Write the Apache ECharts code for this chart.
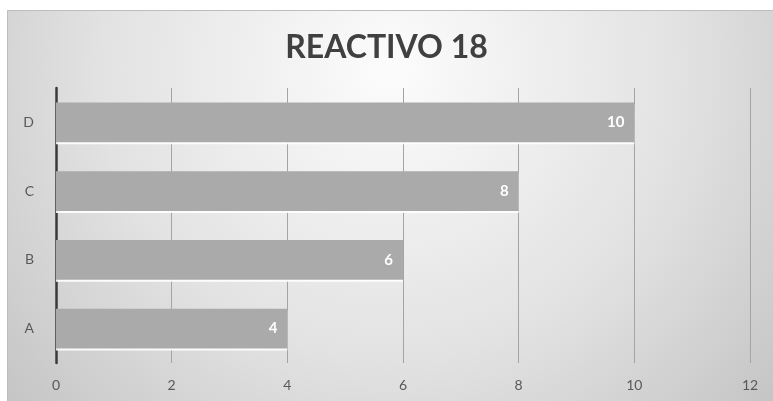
<!DOCTYPE html>
<html><head><meta charset="utf-8">
<script src="https://cdn.jsdelivr.net/npm/echarts@6/dist/echarts.min.js"></script>
<style>html,body{margin:0;padding:0;background:#fff}#c{width:773px;height:401px}</style>
</head><body><div id="c"></div>
<script>
const titleText = 'REACTIVO 18';
const categories = ['A', 'B', 'C', 'D'];
const values = [4, 6, 8, 10];
const xTicks = [0, 2, 4, 6, 8, 10, 12];

const chart = echarts.init(document.getElementById('c'));
chart.setOption({
  animation: false,
  graphic: [{
    type: 'rect', left: 7, top: 10, z: -10,
    shape: { width: 766, height: 391 },
    style: {
      fill: { type: 'radial', x: 0.5, y: 0.15, r: 1.35,
        colorStops: [{ offset: 0, color: '#fcfcfc' }, { offset: 0.55, color: '#e2e2e2' }, { offset: 1, color: '#c2c2c2' }] },
      stroke: '#bdbdbd', lineWidth: 1
    }
  }],
  title: {
    text: titleText, left: 'center', top: 27, itemGap: 0,
    textStyle: { fontFamily: 'Lato', fontWeight: 'bold', fontSize: 32, color: '#404040' }
  },
  grid: { left: 56, right: 23, top: 88, bottom: 38, containLabel: false },
  xAxis: {
    type: 'value', min: xTicks[0], max: xTicks[xTicks.length - 1], interval: 2,
    axisLine: { show: false }, axisTick: { show: false },
    splitLine: { show: true, lineStyle: { color: '#a4a4a4', width: 1 } },
    axisLabel: { color: '#595959', fontSize: 14, fontFamily: 'Lato', margin: 15 }
  },
  yAxis: {
    type: 'category', data: categories,
    axisLine: { show: true, lineStyle: { color: '#3a3a3a', width: 2.5 } },
    axisTick: { show: false },
    axisLabel: { color: '#595959', fontSize: 14, fontFamily: 'Lato', margin: 22 }
  },
  series: [{
    type: 'bar', data: values, barCategoryGap: '42%',
    itemStyle: { color: '#aaaaaa', shadowColor: 'rgba(255,255,255,0.9)', shadowOffsetY: 2, shadowBlur: 0 },
    label: { show: true, position: 'insideRight', color: '#ffffff', fontWeight: 'bold',
      fontSize: 15, fontFamily: 'Lato', distance: 10 }
  }]
});
</script></body></html>
